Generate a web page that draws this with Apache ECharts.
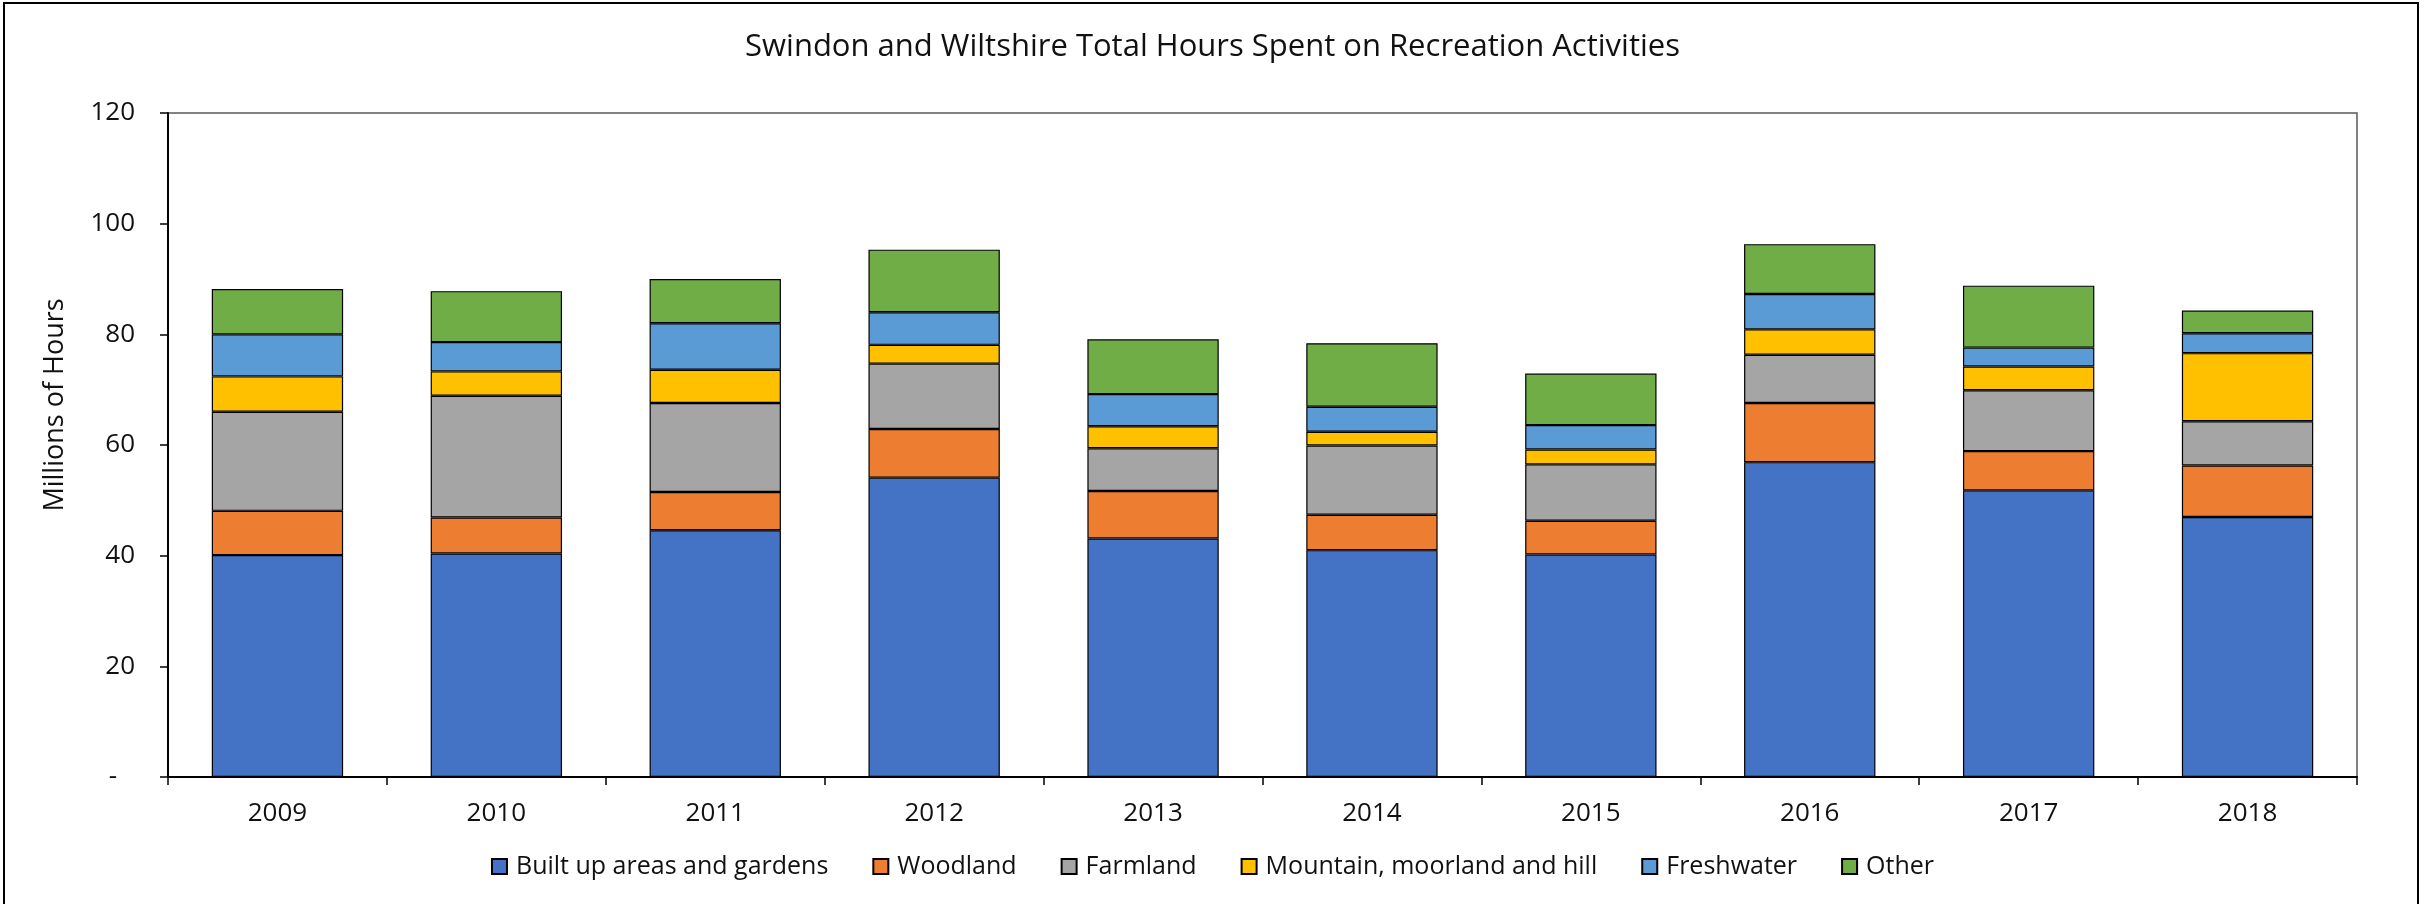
<!DOCTYPE html>
<html>
<head>
<meta charset="utf-8">
<script src="https://cdn.jsdelivr.net/npm/echarts@6/dist/echarts.min.js"></script>
<style>
html,body{margin:0;padding:0;background:#fff;}
#chart{width:2425px;height:904px;}
</style>
</head>
<body>
<div id="chart"></div>
<script>
const years = ['2009','2010','2011','2012','2013','2014','2015','2016','2017','2018'];
const seriesNames = ['Built up areas and gardens','Woodland','Farmland','Mountain, moorland and hill','Freshwater','Other'];
const builtUp    = [40.1, 40.4, 44.6, 54.1, 43.1, 41.0, 40.2, 56.9, 51.8, 47.0];
const woodland   = [8.0, 6.5, 6.9, 8.8, 8.6, 6.4, 6.1, 10.7, 7.1, 9.3];
const farmland   = [17.9, 22.0, 16.1, 11.8, 7.7, 12.5, 10.2, 8.7, 11.0, 8.0];
const mountain   = [6.4, 4.4, 6.0, 3.4, 4.0, 2.5, 2.7, 4.6, 4.3, 12.3];
const freshwater = [7.6, 5.3, 8.4, 5.9, 5.8, 4.5, 4.4, 6.4, 3.4, 3.6];
const other      = [8.2, 9.2, 8.0, 11.3, 9.9, 11.5, 9.3, 9.0, 11.2, 4.1];
const colors = ['#4472C4','#ED7D31','#A5A5A5','#FFC000','#5B9BD5','#70AD47'];
const titleText = 'Swindon and Wiltshire Total Hours Spent on Recreation Activities';
const yName = 'Millions of Hours';

const FONT = '"Open Sans", "Noto Sans", sans-serif';
const values = [builtUp, woodland, farmland, mountain, freshwater, other];

const chart = echarts.init(document.getElementById('chart'), null, {renderer: 'canvas'});
chart.setOption({
  animation: false,
  backgroundColor: '#fff',
  color: colors,
  title: {
    text: titleText,
    left: 'center',
    top: 27,
    textStyle: {fontFamily: FONT, fontSize: 31, fontWeight: 'normal', color: '#111'}
  },
  legend: {
    data: seriesNames,
    left: 'center',
    top: 849,
    itemWidth: 15,
    itemHeight: 15,
    itemGap: 44,
    icon: 'rect',
    textStyle: {fontFamily: FONT, fontSize: 25, color: '#111', padding: [0,0,0,4]}
  },
  graphic: [
    {type: 'rect', shape: {x: 4, y: 3, width: 2414, height: 1000}, style: {fill: 'none', stroke: '#000', lineWidth: 2}, silent: true, z: 100},
    {type: 'text', x: 55, y: 405, rotation: Math.PI/2, style: {text: yName, font: '27px ' + FONT, fill: '#111', align: 'center', verticalAlign: 'middle'}}
  ],
  grid: {left: 168, right: 68, top: 113, bottom: 127, show: true, borderColor: '#595959', borderWidth: 1.5, backgroundColor: 'transparent'},
  xAxis: {
    type: 'category',
    data: years,
    axisLine: {lineStyle: {color: '#000', width: 2}},
    axisTick: {show: true, length: 8, lineStyle: {color: '#000', width: 1.5}},
    axisLabel: {fontFamily: FONT, fontSize: 26, color: '#111', margin: 24}
  },
  yAxis: {
    type: 'value',
    min: 0, max: 120, interval: 20,
    axisLine: {show: true, lineStyle: {color: '#000', width: 2}},
    axisTick: {show: true, length: 8, lineStyle: {color: '#000', width: 1.5}},
    splitLine: {show: false},
    axisLabel: {
      fontFamily: FONT, fontSize: 26, color: '#111', margin: 33,
      formatter: function (v) { return v === 0 ? '{d|-}' : String(v); },
      rich: {d: {fontFamily: FONT, fontSize: 26, color: '#111', padding: [0, 18, 0, 0]}}
    }
  },
  series: seriesNames.map(function (name, i) {
    return {
      name: name,
      type: 'bar',
      stack: 'total',
      barCategoryGap: '40%',
      data: values[i],
      itemStyle: {color: colors[i], borderColor: '#000', borderWidth: 1.2}
    };
  })
});
</script>
</body>
</html>
